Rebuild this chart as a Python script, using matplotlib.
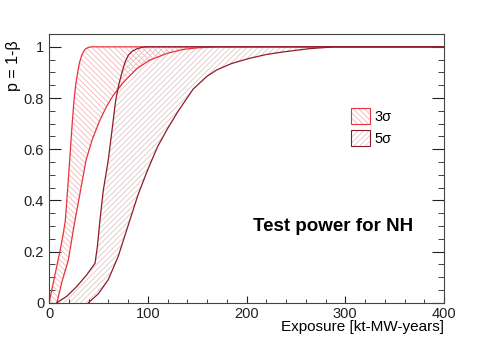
import matplotlib
matplotlib.use("Agg")
import matplotlib.pyplot as plt
from matplotlib.patches import Patch
from matplotlib.ticker import MultipleLocator

plt.rcParams['font.family'] = ['Liberation Sans', 'DejaVu Sans']
plt.rcParams['hatch.linewidth'] = 0.5

# test power curves: (exposure, power)
# 3 sigma band
sig3_fast_x = [0, 5, 11, 14, 16.5, 19, 21, 23, 25.3, 27, 29, 31, 33, 35, 37, 40, 43, 400]
sig3_fast_y = [0, 0.09, 0.2, 0.26, 0.32, 0.45, 0.56, 0.675, 0.79, 0.85, 0.9, 0.94, 0.965, 0.982, 0.992, 0.998, 1.0, 1.0]
sig3_slow_x = [8, 13, 19.6, 25.3, 32, 37.5, 44, 51.6, 58, 65, 75, 89, 102, 120, 136, 150, 170, 400]
sig3_slow_y = [0, 0.08, 0.167, 0.3, 0.44, 0.557, 0.64, 0.714, 0.765, 0.81, 0.86, 0.915, 0.948, 0.975, 0.99, 0.996, 1.0, 1.0]
# 5 sigma band
sig5_fast_x = [8, 18, 28, 38, 46.6, 49, 51.6, 55, 60, 64, 67.5, 70.5, 73.6, 77, 80.3, 84, 88.8, 94, 99, 400]
sig5_fast_y = [0, 0.025, 0.063, 0.108, 0.154, 0.22, 0.323, 0.44, 0.557, 0.68, 0.79, 0.85, 0.896, 0.94, 0.967, 0.982, 0.992, 0.998, 1.0, 1.0]
sig5_slow_x = [40, 50, 60, 70, 80, 90, 100, 110, 120, 131, 146, 160, 170, 185, 203, 220, 237, 264, 290, 400]
sig5_slow_y = [0, 0.035, 0.09, 0.18, 0.3, 0.42, 0.52, 0.61, 0.68, 0.75, 0.835, 0.885, 0.91, 0.935, 0.955, 0.97, 0.98, 0.993, 1.0, 1.0]

labels = ['3σ', '5σ']
line_cols = ['#e8323c', '#8c1c2c']
hatch_cols = ['#f4aaae', '#dcbcc0']
hatches = ['\\\\\\\\\\\\', '//////']

fig = plt.figure(figsize=(4.94, 3.37), dpi=100)
ax = fig.add_axes([0.0992, 0.1018, 0.7996, 0.7972])

bands = [(sig3_fast_x, sig3_fast_y, sig3_slow_x, sig3_slow_y),
         (sig5_fast_x, sig5_fast_y, sig5_slow_x, sig5_slow_y)]
handles = []
for i, (fx, fy, sx, sy) in enumerate(bands):
    px = list(fx) + list(sx[::-1])
    py = list(fy) + list(sy[::-1])
    ax.fill(px, py, facecolor='none', edgecolor=hatch_cols[i], linewidth=0, hatch=hatches[i])
    ax.plot(fx, fy, color=line_cols[i], lw=0.9)
    ax.plot(sx, sy, color=line_cols[i], lw=0.9)
    # hatched square + coloured outline for the legend
    handles.append((Patch(facecolor='white', edgecolor=hatch_cols[i], lw=0, hatch=hatches[i]),
                    Patch(facecolor='none', edgecolor=line_cols[i], lw=0.8)))

ax.legend(handles=handles, labels=labels, loc='upper left', bbox_to_anchor=(0.75, 0.745),
          frameon=False, fontsize=10.5, handlelength=1.3, handleheight=1.3,
          handletextpad=0.3, labelspacing=0.4, borderaxespad=0)

ax.text(0.72, 0.285, 'Test power for NH', transform=ax.transAxes, ha='center', va='center',
        fontsize=13.5, fontweight='bold')

ax.set_xlim(0, 400)
ax.set_ylim(0, 1.05)
ax.xaxis.set_major_locator(MultipleLocator(100))
ax.xaxis.set_minor_locator(MultipleLocator(20))
ax.yaxis.set_minor_locator(MultipleLocator(0.05))
ax.set_yticks([0, 0.2, 0.4, 0.6, 0.8, 1.0])
ax.set_yticklabels(['0', '0.2', '0.4', '0.6', '0.8', '1'])
ax.tick_params(axis='both', which='both', direction='in', labelsize=10.5, colors='#222222')
ax.tick_params(axis='y', which='both', right=True)
ax.tick_params(axis='y', which='major', length=8.5, pad=3.5)
ax.tick_params(axis='y', which='minor', length=4.3)
ax.tick_params(axis='x', which='major', length=5, pad=3)
ax.tick_params(axis='x', which='minor', length=2.8)
for s in ax.spines.values():
    s.set_color('#444444')
    s.set_linewidth(0.8)

ax.set_xlabel('Exposure [kt-MW-years]', fontsize=11, ha='right', va='top')
ax.xaxis.set_label_coords(1.0, -0.065)
ax.set_ylabel('p = 1-β', fontsize=11.5, ha='right', va='bottom')
ax.yaxis.set_label_coords(-0.07, 0.975)

fig.savefig('out.png', dpi=100)
